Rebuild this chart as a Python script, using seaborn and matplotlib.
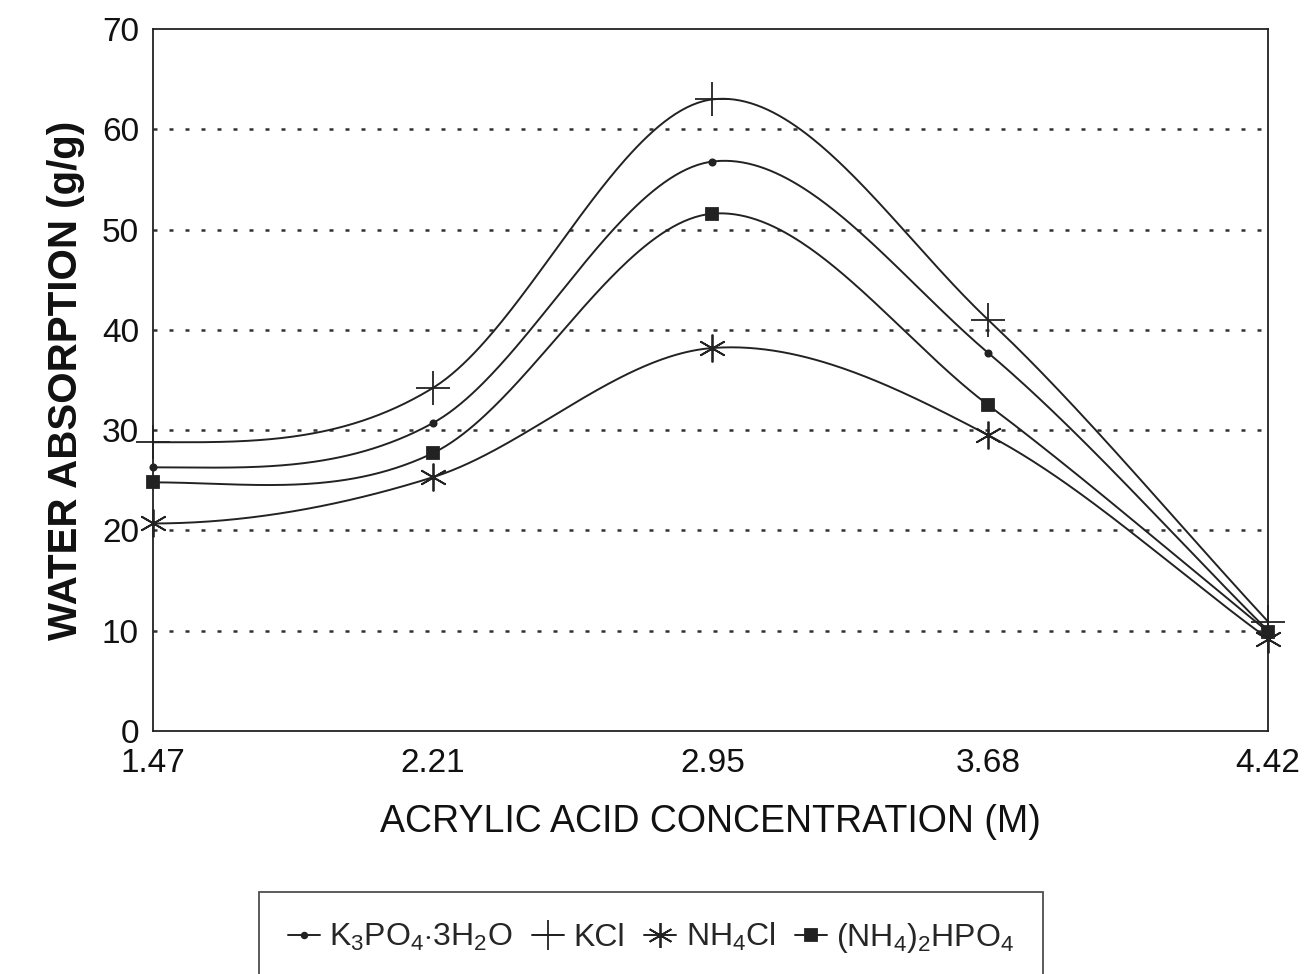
import numpy as np
import pandas as pd
import matplotlib
matplotlib.use("Agg")
import matplotlib.pyplot as plt
from matplotlib.lines import Line2D
import seaborn as sns

# ---- data ----
concentration = [1.47, 2.21, 2.95, 3.68, 4.42]
x_tick_labels = ["1.47", "2.21", "2.95", "3.68", "4.42"]
k3po4 = [26.3, 30.7, 56.8, 37.7, 10.0]
kcl = [28.8, 34.2, 63.0, 41.0, 10.9]
nh4cl = [20.7, 25.3, 38.2, 29.5, 9.2]
nh42hpo4 = [24.8, 27.7, 51.6, 32.5, 9.9]
y_ticks = [0, 10, 20, 30, 40, 50, 60, 70]

labels = [r"K$_3$PO$_4$$\cdot$3H$_2$O", "KCl", r"NH$_4$Cl", r"(NH$_4$)$_2$HPO$_4$"]
series = [k3po4, kcl, nh4cl, nh42hpo4]

sns.set_style("white")
plt.rcParams["font.family"] = ["Liberation Sans", "DejaVu Sans"]
plt.rcParams["mathtext.fontset"] = "custom"
plt.rcParams["mathtext.rm"] = "Liberation Sans"
plt.rcParams["mathtext.it"] = "Liberation Sans"
plt.rcParams["mathtext.bf"] = "Liberation Sans:bold"


def smooth_curve(x, y, xs):
    """Catmull-Rom style Hermite curve through the data points (drawing only)."""
    x = np.asarray(x, float)
    y = np.asarray(y, float)
    n = len(x)
    h = np.diff(x)
    d = np.zeros(n)
    for k in range(1, n - 1):
        d[k] = (y[k + 1] - y[k - 1]) / (x[k + 1] - x[k - 1])
    d[0] = 0.0
    d[-1] = (y[-1] - y[-2]) / h[-1]
    out = np.empty_like(xs)
    for j, xv in enumerate(xs):
        i = min(max(np.searchsorted(x, xv) - 1, 0), n - 2)
        t = (xv - x[i]) / h[i]
        h00 = 2 * t**3 - 3 * t**2 + 1
        h10 = t**3 - 2 * t**2 + t
        h01 = -2 * t**3 + 3 * t**2
        h11 = t**3 - t**2
        out[j] = h00 * y[i] + h10 * h[i] * d[i] + h01 * y[i + 1] + h11 * h[i] * d[i + 1]
    return out


fig = plt.figure(figsize=(13.06, 9.74), dpi=100)
ax = fig.add_axes([0.117, 0.2495, 0.854, 0.7205])

line_color = "#222222"
markers = ["o", "+", (6, 2, 0), "s"]
msizes = [4.5, 24, 20, 9]

xs = np.linspace(concentration[0], concentration[-1], 400)
for vals, lab, mk, ms in zip(series, labels, markers, msizes):
    ys = smooth_curve(concentration, vals, xs)
    sns.lineplot(x=xs, y=ys, ax=ax, color=line_color, linewidth=1.4, estimator=None)
    ax.plot(concentration, vals, linestyle="none", marker=mk, markersize=ms,
            color=line_color, markeredgecolor=line_color, markeredgewidth=1.3,
            clip_on=False, zorder=5)

ax.set_xlim(concentration[0], concentration[-1])
ax.set_ylim(0, 70)
ax.set_xticks(concentration)
ax.set_xticklabels(x_tick_labels)
ax.set_yticks(y_ticks)
ax.tick_params(axis="both", labelsize=24, direction="in", length=6, width=1.2,
               colors="#222222", labelcolor="#111111")
ax.tick_params(axis="x", pad=12)
ax.tick_params(axis="y", pad=10)
for y in y_ticks[1:-1]:
    ax.axhline(y, color="#333333", linestyle=(0, (1.6, 4.8)), linewidth=1.8, zorder=0)

for s in ax.spines.values():
    s.set_color("#222222")
    s.set_linewidth(1.3)

ax.set_xlabel("ACRYLIC ACID CONCENTRATION (M)", fontsize=27, labelpad=18, color="#111111")
ax.set_ylabel("WATER ABSORPTION (g/g)", fontsize=29, fontweight="bold", labelpad=12, color="#111111")

handles = [Line2D([0], [0], color=line_color, linewidth=1.4, marker=mk,
                  markersize=ms * 0.9, markeredgewidth=1.3)
           for mk, ms in zip(markers, msizes)]
leg = fig.legend(handles, labels, loc="center", bbox_to_anchor=(0.4985, 0.037),
                 ncol=4, fontsize=23, frameon=True, fancybox=False,
                 handlelength=1.0, handletextpad=0.3, columnspacing=0.6,
                 borderpad=0.9, edgecolor="#222222")
leg.get_frame().set_linewidth(1.3)

fig.savefig("out.png", dpi=100, facecolor="white")
